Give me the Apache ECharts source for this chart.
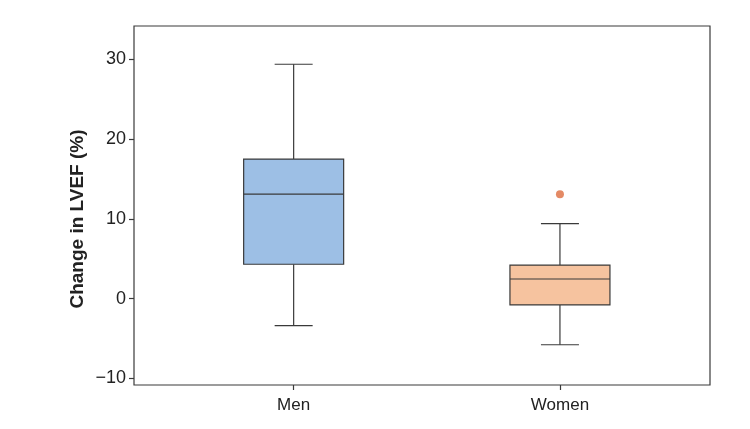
<!DOCTYPE html>
<html>
<head>
<meta charset="utf-8">
<title>Change in LVEF</title>
<script src="https://cdn.jsdelivr.net/npm/echarts@6/dist/echarts.min.js"></script>
<style>
  html, body { margin: 0; padding: 0; background: #fff; }
  #chart { width: 750px; height: 429px; }
</style>
</head>
<body>
<div id="chart"></div>
<script>
// 数据
var categories = ['Men', 'Women'];
var lowWhisker = [-3.4, -5.8];
var q1 = [4.3, -0.8];
var median = [13.1, 2.45];
var q3 = [17.5, 4.2];
var highWhisker = [29.4, 9.4];
var outlierCat = ['Women'];
var outlierVal = [13.1];
var yTicks = [-10, 0, 10, 20, 30];

var boxColors = ['#9dbfe5', '#f6c39f'];
var lineColor = '#3a3a3a';
var font = "'Liberation Sans', Arial, sans-serif";

var $each = function(arr, fn){ for (var i = 0; i < arr.length; i++) fn(i, arr[i]); };
var boxData = [];
$each(categories, function(i, n){
    boxData.push([i, lowWhisker[i], q1[i], median[i], q3[i], highWhisker[i]]);
});
var outlierData = [];
$each(outlierCat, function(i, n){
    outlierData.push([categories.indexOf(n), outlierVal[i]]);
});

var renderBox = function(params, api){
    var x = api.value(0);
    var pLow = api.coord([x, api.value(1)]);
    var pQ1 = api.coord([x, api.value(2)]);
    var pMed = api.coord([x, api.value(3)]);
    var pQ3 = api.coord([x, api.value(4)]);
    var pHigh = api.coord([x, api.value(5)]);
    var cx = pMed[0];
    var half = 50, cap = 19;
    var ls = { stroke: lineColor, lineWidth: 1.2 };
    return {
        type: 'group',
        children: [
            { type: 'line', shape: { x1: cx, y1: pQ3[1], x2: cx, y2: pHigh[1] }, style: ls },
            { type: 'line', shape: { x1: cx, y1: pQ1[1], x2: cx, y2: pLow[1] }, style: ls },
            { type: 'line', shape: { x1: cx - cap, y1: pHigh[1], x2: cx + cap, y2: pHigh[1] }, style: ls },
            { type: 'line', shape: { x1: cx - cap, y1: pLow[1], x2: cx + cap, y2: pLow[1] }, style: ls },
            { type: 'rect', shape: { x: cx - half, y: pQ3[1], width: half * 2, height: pQ1[1] - pQ3[1] },
              style: { fill: boxColors[params.dataIndex], stroke: lineColor, lineWidth: 1.2 } },
            { type: 'line', shape: { x1: cx - half, y1: pMed[1], x2: cx + half, y2: pMed[1] }, style: ls }
        ]
    };
};

var chart = echarts.init(document.getElementById('chart'));
var option = {
    backgroundColor: '#fff',
    animation: false,
    grid: [
        { left: 134, top: 26, width: 576, bottom: 44, show: true, borderColor: lineColor, borderWidth: 1.2, backgroundColor: 'transparent' },
        { left: 160.5, top: 26, width: 532.6, bottom: 44 }
    ],
    xAxis: [
        { gridIndex: 0, type: 'value', show: false },
        {
            gridIndex: 1, type: 'category', data: categories, position: 'bottom',
            axisLine: { show: false, onZero: false },
            axisTick: { show: true, alignWithLabel: true, length: 5, lineStyle: { color: lineColor, width: 1.2 } },
            axisLabel: { fontSize: 17, color: '#222', fontFamily: font, margin: 12 }
        }
    ],
    yAxis: [
        {
            gridIndex: 0, type: 'value', min: -10.85, max: 34.2,
            name: 'Change in LVEF (%)', nameLocation: 'middle', nameGap: 47, nameMoveOverlap: false,
            nameTextStyle: { fontSize: 19, fontWeight: 'bold', color: '#222', fontFamily: font, padding: [0, 27, 0, 0] },
            axisLine: { show: false },
            splitLine: { show: false },
            axisTick: { show: true, length: 5, customValues: yTicks, lineStyle: { color: lineColor, width: 1.2 } },
            axisLabel: {
                fontSize: 18, color: '#222', fontFamily: font, margin: 8, customValues: yTicks,
                formatter: function(v){ return v < 0 ? '\u2212' + Math.abs(v) : String(v); }
            }
        },
        { gridIndex: 1, type: 'value', min: -10.85, max: 34.2, show: false, splitLine: { show: false } }
    ],
    series: [
        { type: 'custom', xAxisIndex: 1, yAxisIndex: 1, renderItem: renderBox, data: boxData, encode: { x: 0, y: [1, 2, 3, 4, 5] } },
        { type: 'scatter', xAxisIndex: 1, yAxisIndex: 1, data: outlierData, symbolSize: 8, itemStyle: { color: '#dd6d3e' } }
    ]
};
chart.setOption(option);
</script>
</body>
</html>
